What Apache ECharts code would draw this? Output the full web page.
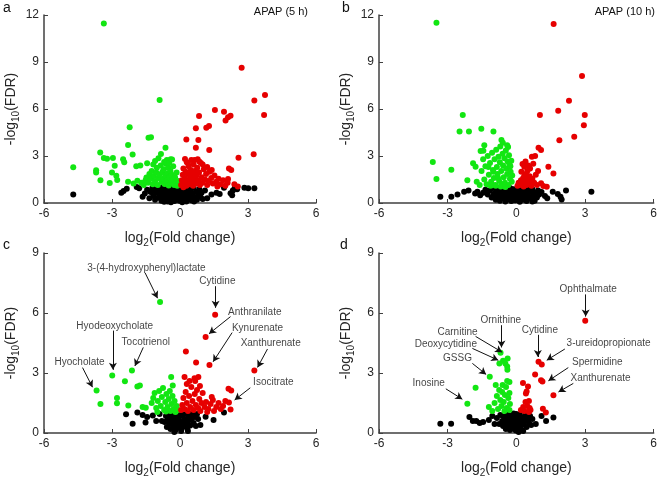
<!DOCTYPE html>
<html>
<head>
<meta charset="utf-8">
<script src="https://cdn.jsdelivr.net/npm/echarts@6/dist/echarts.min.js"></script>
<style>
html,body{margin:0;padding:0;background:#fff;}
#main{width:660px;height:479px;}
</style>
</head>
<body>
<div id="main"></div>
<script>
// panel a : APAP (5 h)
var aGreen=[[-3.36,11.45],[-0.90,6.57],[-2.22,4.83],[-1.39,4.17],[-1.28,4.19],[-2.29,3.70],[-0.64,3.53],[-3.52,3.23],[-3.36,2.87],[-3.22,2.83],[-2.96,2.87],[-2.51,2.79],[-2.09,3.09],[-4.71,2.28],[-2.88,2.38],[-2.46,2.60],[-3.70,2.09],[-3.70,1.94],[-3.00,1.94],[-2.81,1.74],[-3.51,1.45],[-3.10,1.28],[-2.77,1.47],[-2.29,1.36],[-1.93,2.34],[-1.75,2.40],[-1.45,2.53],[-1.10,2.68],[-0.84,3.13],[-0.58,2.74],[-0.41,2.79],
	[-1.52,1.45],[-1.48,1.62],[-1.40,1.30],[-1.35,1.85],[-1.28,1.55],[-1.25,2.05],[-1.20,1.20],[-1.15,1.72],[-1.10,1.40],[-1.05,1.95],[-1.02,2.25],[-0.98,1.15],[-0.95,1.60],[-0.90,1.82],[-0.85,2.40],[-0.82,1.35],[-0.78,1.98],[-0.75,1.55],[-0.72,2.15],[-0.68,1.22],[-0.65,1.75],[-0.62,2.50],[-0.58,1.42],[-0.55,1.90],[-0.52,2.25],[-0.50,1.12],[-0.46,1.62],[-0.42,2.05],[-0.40,1.30],[-0.36,1.80],[-0.32,1.48],[-0.30,2.35],[-0.26,1.15],[-0.22,1.65],[-0.18,1.30],[-0.15,1.95],[-0.12,1.10],[-0.08,1.40],[-1.70,1.30],[-1.60,1.15],[-1.88,1.42],[-2.05,1.25],[-0.70,2.62],[-0.95,2.85],[-1.18,2.45],[-0.48,2.55],[-0.35,2.78]];
var aRed=[[2.72,8.64],[3.75,6.89],[3.28,6.55],[1.54,5.94],[1.94,5.83],[2.12,5.47],[2.01,5.26],[2.23,5.57],[3.71,5.62],[0.84,5.55],[0.70,4.77],[1.16,4.81],[1.28,4.91],[0.28,4.06],[0.81,4.02],[0.70,3.53],[1.29,3.38],[3.25,3.11],[2.58,2.89],[0.22,2.81],[0.35,2.53],[0.64,2.74],[0.78,2.79],[2.16,2.21],[2.26,2.11],[2.12,1.53],
	[0.05,1.15],[0.08,1.45],[0.12,1.80],[0.15,2.20],[0.18,1.25],[0.22,1.60],[0.25,2.00],[0.28,1.10],[0.32,1.40],[0.35,1.85],[0.38,2.35],[0.42,1.20],[0.45,1.65],[0.48,2.10],[0.52,1.35],[0.55,1.90],[0.58,1.10],[0.60,2.45],[0.62,1.55],[0.66,2.05],[0.70,1.25],[0.72,1.75],[0.76,2.25],[0.80,1.45],[0.84,1.95],[0.88,1.15],[0.92,2.55],[0.95,1.65],[1.00,1.30],[1.05,2.15],[1.10,1.50],[1.15,1.85],[1.20,1.15],[1.25,1.40],[1.30,2.00],[1.38,1.60],[1.45,1.25],[1.52,1.75],[1.60,1.35],[1.70,1.55],[1.80,1.20],[1.90,1.45],[2.00,1.10],[2.10,1.30],[1.00,2.45],[1.20,2.30],[1.40,2.10],[0.30,2.60],[0.50,2.75],[0.85,2.65],[2.40,1.20],[2.55,1.05],[1.65,1.05],[0.15,1.00]];
var aBlack=[[-4.71,0.55],[-2.59,0.66],[-2.49,0.77],[-2.35,0.91],[-1.91,1.02],[-1.80,0.94],[-1.65,0.40],[-1.55,0.60],[-1.45,0.85],[1.39,0.55],[1.61,0.66],[1.75,0.57],[1.94,0.98],[2.23,0.62],[2.33,0.79],[2.41,0.94],[2.52,0.87],[2.84,0.98],[3.01,0.94],[3.28,0.94],[2.30,0.50],[1.20,0.30],[1.10,0.80],
	[-1.35,0.30],[-1.30,0.70],[-1.22,0.95],[-1.18,0.45],[-1.10,0.20],[-1.05,0.65],[-1.00,0.90],[-0.95,0.35],[-0.90,0.55],[-0.86,0.80],[-0.82,0.15],[-0.78,1.00],[-0.75,0.42],[-0.70,0.68],[-0.66,0.25],[-0.62,0.88],[-0.58,0.50],[-0.55,0.10],[-0.52,0.75],[-0.48,0.35],[-0.45,0.95],[-0.42,0.60],[-0.38,0.20],[-0.35,0.82],[-0.32,0.45],[-0.28,0.70],[-0.25,0.12],[-0.22,0.98],[-0.18,0.38],[-0.15,0.62],[-0.12,0.25],[-0.08,0.85],[-0.05,0.50],[-0.02,0.15],[0.02,0.72],[0.05,0.40],[0.08,0.95],[0.12,0.22],[0.15,0.60],[0.18,0.85],[0.22,0.32],[0.25,0.70],[0.28,0.10],[0.32,0.48],[0.35,0.92],[0.38,0.28],[0.42,0.65],[0.45,0.80],[0.50,0.18],[0.55,0.55],[0.60,0.98],[0.65,0.35],[0.70,0.72],[0.75,0.20],[0.80,0.55],[0.85,0.88],[0.90,0.40],[0.95,0.65],[1.00,0.25],[-0.60,0.30],[-0.40,0.05],[0.00,0.30],[0.10,0.05],[-0.20,0.55],[-0.85,0.30],[-1.15,0.80],[0.48,0.42],[-0.30,0.90],[0.62,0.10],[0.30,0.88],[-0.70,0.08],[-0.10,0.70],[0.20,0.45]];

// panel b : APAP (10 h)
var bGreen=[[-3.49,11.50],[-2.34,5.62],[-2.48,4.57],[-2.07,4.57],[-1.53,4.74],[-1.00,4.57],[-3.65,2.62],[-3.49,1.53],[-2.84,2.13],[-2.14,1.45],[-1.89,2.53],[-1.78,2.32],[-1.73,1.36],[-1.56,3.32],[-1.44,3.34],[-1.40,3.68],[-0.65,4.02],[-0.59,3.85],[-0.40,3.68],[-0.36,3.58],
	[-1.60,1.15],[-1.52,2.05],[-1.45,2.80],[-1.40,1.50],[-1.35,2.35],[-1.30,1.20],[-1.25,3.00],[-1.20,1.80],[-1.15,2.55],[-1.10,1.35],[-1.06,3.20],[-1.02,2.10],[-0.98,1.60],[-0.95,2.80],[-0.92,1.15],[-0.88,3.40],[-0.85,2.30],[-0.82,1.85],[-0.78,2.95],[-0.75,1.40],[-0.72,2.60],[-0.70,3.60],[-0.66,2.05],[-0.62,1.20],[-0.60,3.15],[-0.58,2.40],[-0.55,1.65],[-0.52,2.85],[-0.50,1.30],[-0.46,3.35],[-0.44,2.20],[-0.40,1.85],[-0.38,2.65],[-0.35,1.15],[-0.32,3.05],[-0.30,2.45],[-0.28,1.55],[-0.25,2.00],[-0.22,2.70],[-0.20,1.35],[-0.18,1.75],[-0.68,1.05],[-0.80,1.60],[-1.00,2.00],[-1.22,2.30],[-0.48,1.02],[-0.26,2.35],[-0.90,1.10],[-1.12,1.10]];
var bRed=[[1.63,11.43],[2.87,8.11],[2.30,6.53],[1.83,5.89],[1.03,5.62],[2.99,5.62],[2.95,4.96],[2.53,4.23],[1.88,4.00],[0.97,3.53],[1.08,3.38],[0.68,2.96],[0.82,3.00],[1.40,2.32],[1.62,1.89],[0.27,2.49],[0.35,2.32],[1.08,1.26],[1.18,1.09],[1.33,1.04],
	[0.05,1.10],[0.10,1.30],[0.15,1.15],[0.20,1.45],[0.25,1.20],[0.30,1.60],[0.32,1.05],[0.38,1.35],[0.42,1.85],[0.45,1.15],[0.48,2.05],[0.50,1.50],[0.55,1.25],[0.58,1.70],[0.60,2.20],[0.62,1.40],[0.66,1.10],[0.70,1.55],[0.74,2.50],[0.78,1.30],[0.85,1.80],[0.90,1.15],[0.40,2.65],[0.52,2.40],[0.22,2.00],[0.95,2.05],[0.35,1.70]];
var bBlack=[[-3.32,0.40],[-2.84,0.40],[-2.57,0.55],[-2.28,0.72],[-2.09,0.79],[-1.80,0.60],[-1.70,0.72],[-1.58,0.50],[-1.45,0.65],[-1.35,0.85],[1.59,0.72],[1.81,0.57],[1.93,0.40],[1.98,0.23],[2.17,0.79],[3.28,0.72],[1.25,0.45],[1.35,0.30],[1.10,0.70],
	[-1.25,0.55],[-1.15,0.80],[-1.08,0.35],[-1.00,0.95],[-0.95,0.60],[-0.90,0.20],[-0.85,0.75],[-0.80,0.40],[-0.76,0.98],[-0.72,0.15],[-0.68,0.62],[-0.64,0.85],[-0.60,0.30],[-0.56,0.50],[-0.52,0.92],[-0.48,0.10],[-0.45,0.70],[-0.42,0.38],[-0.38,0.82],[-0.35,0.22],[-0.32,0.58],[-0.28,0.95],[-0.25,0.45],[-0.22,0.12],[-0.18,0.68],[-0.15,0.30],[-0.12,0.88],[-0.08,0.50],[-0.05,0.18],[-0.02,0.75],[0.02,0.40],[0.05,0.95],[0.08,0.25],[0.12,0.62],[0.15,0.08],[0.18,0.85],[0.22,0.45],[0.25,0.70],[0.28,0.20],[0.32,0.92],[0.35,0.55],[0.38,0.32],[0.42,0.78],[0.45,0.12],[0.48,0.60],[0.52,0.95],[0.55,0.40],[0.60,0.70],[0.65,0.25],[0.70,0.88],[0.75,0.50],[0.80,0.15],[0.85,0.65],[0.90,0.35],[0.95,0.80],[1.00,0.55],[-0.70,0.45],[-0.40,0.55],[0.10,0.48],[0.40,0.20],[-0.20,0.88],[-0.60,0.80],[0.30,0.65],[-1.00,0.50],[0.70,0.10]];

// panel c
var cGreen=[[-0.88,6.55],[-2.12,3.12],[-2.99,2.88],[-2.43,2.59],[-1.88,2.32],[-1.77,2.38],[-3.68,2.13],[-2.78,1.75],[-2.78,1.49],[-3.51,1.45],[-2.28,1.37],[-1.65,1.30],[-1.51,1.26],[-0.39,2.80],[-0.32,2.37],
	[-1.25,1.50],[-1.18,1.75],[-1.12,2.00],[-1.05,1.25],[-0.98,1.60],[-0.92,2.10],[-0.85,1.35],[-0.80,1.80],[-0.75,2.25],[-0.70,1.15],[-0.65,1.55],[-0.60,1.95],[-0.55,1.30],[-0.50,1.70],[-0.45,2.10],[-0.42,1.10],[-0.38,1.45],[-0.33,1.85],[-0.28,1.20],[-0.24,1.60],[-0.20,1.05],[-0.15,1.35],[-0.10,1.15],[-1.00,1.05],[-0.62,1.08]];
var cRed=[[1.55,5.91],[1.13,4.80],[0.26,4.07],[0.71,3.53],[1.30,3.40],[3.28,3.12],[0.20,2.80],[0.64,2.74],[0.81,2.80],[0.42,2.60],[0.67,2.60],[2.14,2.21],[2.26,2.13],[2.16,1.53],[2.23,1.18],
	[0.05,1.15],[0.10,1.40],[0.15,1.75],[0.20,1.20],[0.25,2.05],[0.30,1.50],[0.35,1.10],[0.40,1.85],[0.45,1.30],[0.50,2.30],[0.55,1.60],[0.60,1.15],[0.65,1.95],[0.70,1.40],[0.75,2.15],[0.80,1.25],[0.85,1.70],[0.90,1.10],[0.95,1.50],[1.00,2.00],[1.08,1.30],[1.15,1.55],[1.25,1.20],[1.35,1.45],[1.45,1.65],[1.50,1.10],[1.60,1.30],[1.70,1.50],[1.80,1.20],[1.90,1.35],[2.00,1.60],[1.40,1.80],[0.88,2.35],[0.30,2.45],[1.20,1.05]];
var cBlack=[[-2.38,0.94],[-1.88,1.02],[-2.09,0.46],[-1.65,0.90],[-1.45,0.80],[-1.52,0.52],[-1.20,0.88],[-1.05,0.60],[-0.90,0.95],[1.13,0.81],[1.48,0.65],[1.94,1.02],[0.90,0.40],[0.80,0.70],
	[-0.68,0.55],[-0.62,0.85],[-0.58,0.30],[-0.55,0.65],[-0.50,0.95],[-0.46,0.45],[-0.42,0.20],[-0.38,0.75],[-0.35,0.52],[-0.30,0.90],[-0.27,0.35],[-0.24,0.65],[-0.20,0.15],[-0.17,0.80],[-0.14,0.48],[-0.10,0.98],[-0.07,0.28],[-0.04,0.62],[0.00,0.40],[0.03,0.85],[0.06,0.18],[0.10,0.55],[0.13,0.92],[0.16,0.32],[0.20,0.70],[0.24,0.45],[0.28,0.95],[0.32,0.25],[0.36,0.60],[0.40,0.82],[0.45,0.38],[0.50,0.68],[0.55,0.95],[0.60,0.50],[0.65,0.80],[0.70,0.35],[0.75,0.95],[-0.25,0.05],[0.05,0.10],[-0.45,0.72],[0.35,0.10],[0.18,0.50],[-0.12,0.30],[0.42,0.98],[-0.80,0.60]];

// panel d
var dGreen=[[-0.69,4.01],[-0.38,3.72],[-0.58,3.61],[-0.74,3.47],[-0.48,3.48],[-0.40,3.32],[-0.39,3.16],[-1.16,2.81],[-1.78,2.26],[-2.14,1.46],[-0.30,2.55],[-0.40,2.60],[-0.60,2.40],[-0.45,2.30],[-0.75,2.15],[-0.62,2.05],[-0.30,2.00],[-0.50,1.90],[-0.85,1.85],[-0.35,1.75],[-0.70,1.65],[-0.55,1.55],[-0.28,1.45],[-0.95,1.50],[-0.65,1.35],[-0.42,1.25],[-0.80,1.20],[-1.05,1.10],[-0.52,1.10],[-0.30,1.15],[-0.90,2.40],[-1.20,1.30]];
var dRed=[[3.01,5.61],[0.97,3.56],[1.11,3.43],[0.82,2.93],[1.08,2.64],[1.14,2.58],[0.29,2.50],[0.51,2.32],[0.45,2.08],[0.42,1.97],[1.62,1.89],[0.55,1.60],[0.40,1.55],[0.30,1.30],[0.48,1.35],[0.58,1.25],[0.20,1.15],[1.16,1.21],[1.29,1.02],[0.55,1.05],[0.35,1.10],[0.62,1.15]];
var dBlack=[[-3.32,0.46],[-2.85,0.46],[-2.05,0.80],[-1.75,0.60],[-1.90,0.60],[-1.60,0.50],[-1.45,0.55],[-1.20,0.65],[-1.05,0.85],[-0.95,0.45],[1.62,0.78],[1.10,0.85],[0.85,0.45],[0.70,0.70],[1.30,0.60],
	[-0.62,0.60],[-0.58,0.35],[-0.55,0.82],[-0.50,0.50],[-0.46,0.20],[-0.42,0.70],[-0.38,0.95],[-0.35,0.40],[-0.31,0.62],[-0.28,0.15],[-0.25,0.85],[-0.22,0.48],[-0.18,0.28],[-0.15,0.72],[-0.12,0.98],[-0.08,0.38],[-0.05,0.58],[-0.02,0.12],[0.02,0.80],[0.05,0.45],[0.08,0.25],[0.12,0.65],[0.15,0.92],[0.18,0.35],[0.22,0.55],[0.25,0.15],[0.28,0.78],[0.32,0.42],[0.36,0.62],[0.40,0.95],[0.45,0.30],[0.50,0.70],[0.55,0.50],[0.60,0.85],[0.65,0.40],[-0.75,0.45],[-0.85,0.75],[-0.70,0.90],[0.10,0.05],[-0.10,0.20],[0.30,0.10],[-0.40,0.30],[0.45,0.85],[-0.20,0.62],[0.00,0.95]];

// annotations: name, text x/y, arrow from x/y, arrow to x/y (data units)
var cNotes=[
	['3-(4-hydroxyphenyl)lactate',-1.48,8.25,-1.54,8.01,-0.99,6.74],
	['Cytidine',1.65,7.58,1.57,7.34,1.57,6.26],
	['Anthranilate',3.30,6.03,2.23,5.82,1.28,4.96],
	['Kynurenate',3.42,5.26,2.30,5.02,1.46,3.56],
	['Xanthurenate',4.00,4.48,3.86,4.20,3.42,3.28],
	['Isocitrate',4.12,2.54,3.10,2.26,2.41,1.65],
	['Hyodeoxycholate',-2.88,5.34,-2.96,5.12,-2.96,3.16],
	['Tocotrienol',-1.51,4.55,-1.62,4.28,-1.99,3.35],
	['Hyocholate',-4.43,3.53,-4.30,3.27,-3.86,2.29]
];
var dNotes=[
	['Ophthalmate',3.14,7.19,3.03,6.93,3.03,5.82],
	['Ornithine',-0.68,5.63,-0.65,5.39,-0.65,4.28],
	['Carnitine',-2.57,5.04,-1.78,4.83,-0.62,4.04],
	['Deoxycytidine',-3.08,4.44,-1.92,4.23,-0.79,3.64],
	['Cytidine',1.03,5.15,0.94,4.91,0.94,3.80],
	['3-ureidopropionate',4.03,4.48,2.12,4.20,1.33,3.64],
	['Spermidine',3.54,3.53,2.27,3.27,1.40,2.61],
	['Xanthurenate',3.68,2.73,2.49,2.48,1.84,2.05],
	['GSSG',-2.57,3.75,-1.92,3.48,-1.32,2.93],
	['Inosine',-3.83,2.48,-3.08,2.21,-2.36,1.69]
];

var FONT='"Liberation Sans", Arial, sans-serif';
var axisCol='#404040';
var txtCol='#262626';

var grids=[
	{left:40,top:15,width:276,height:188},
	{left:379,top:15,width:277,height:188},
	{left:40,top:253,width:276,height:188},
	{left:379,top:253,width:277,height:188}
];
var yMax=[12,12,9,9];

function xAx(i){
	return {
		gridIndex:i,type:'value',min:-6,max:6,interval:3,
		name:'log{s|2}(Fold change)',nameLocation:'middle',nameGap:25,
		nameTextStyle:{fontFamily:FONT,fontSize:14,color:txtCol,lineHeight:20,
			rich:{s:{fontFamily:FONT,fontSize:10,color:txtCol,padding:[10,0,0,0],verticalAlign:'middle'}}},
		axisLine:{show:true,onZero:false,lineStyle:{color:axisCol,width:1.5}},
		axisTick:{show:true,inside:true,length:4,lineStyle:{color:axisCol}},
		axisLabel:{fontFamily:FONT,fontSize:12,color:txtCol,margin:5},
		splitLine:{show:false}
	};
}
function yAx(i){
	return {
		gridIndex:i,type:'value',min:0,max:yMax[i],interval:3,
		name:'-log{s|10}(FDR)',nameLocation:'middle',nameGap:23,
		nameTextStyle:{fontFamily:FONT,fontSize:14,color:txtCol,lineHeight:20,
			rich:{s:{fontFamily:FONT,fontSize:10,color:txtCol,padding:[10,0,0,0],verticalAlign:'middle'}}},
		axisLine:{show:true,onZero:false,lineStyle:{color:axisCol,width:1.5}},
		axisTick:{show:true,inside:true,length:4,lineStyle:{color:axisCol}},
		axisLabel:{fontFamily:FONT,fontSize:12,color:txtCol,margin:5},
		splitLine:{show:false}
	};
}
function dots(i,data,color){
	return {type:'scatter',xAxisIndex:i,yAxisIndex:i,data:data,symbolSize:6,
		itemStyle:{color:color,opacity:1},silent:true,animation:false};
}
function notes(i,list){
	var lines=[],labels=[];
	for(var k=0;k<list.length;k++){
		var n=list[k];
		labels.push({name:n[0],value:[n[1],n[2]]});
		lines.push([{coord:[n[3],n[4]]},{coord:[n[5],n[6]]}]);
	}
	return {type:'scatter',xAxisIndex:i,yAxisIndex:i,data:labels,symbolSize:0,silent:true,animation:false,
		label:{show:true,position:'inside',formatter:'{b}',fontFamily:FONT,fontSize:10,color:'#111'},
		markLine:{silent:true,animation:false,symbol:['none','arrow'],symbolSize:[6,7],
			lineStyle:{color:'#111',width:1,type:'solid'},label:{show:false},data:lines}};
}

var chart=echarts.init(document.getElementById('main'),null,{renderer:'canvas'});
var green='#12e612',red='#e60000',black='#000000';
chart.setOption({
	backgroundColor:'#fff',
	animation:false,
	title:[
		{text:'a',left:3,top:1,padding:0,textStyle:{fontFamily:FONT,fontSize:14,fontWeight:'normal',color:'#111'}},
		{text:'b',left:342,top:1,padding:0,textStyle:{fontFamily:FONT,fontSize:14,fontWeight:'normal',color:'#111'}},
		{text:'c',left:3,top:238,padding:0,textStyle:{fontFamily:FONT,fontSize:14,fontWeight:'normal',color:'#111'}},
		{text:'d',left:340,top:238,padding:0,textStyle:{fontFamily:FONT,fontSize:14,fontWeight:'normal',color:'#111'}},
		{text:'APAP (5 h)',right:352,top:6,padding:0,textStyle:{fontFamily:FONT,fontSize:11,fontWeight:'normal',color:'#111'}},
		{text:'APAP (10 h)',right:5,top:6,padding:0,textStyle:{fontFamily:FONT,fontSize:11,fontWeight:'normal',color:'#111'}}
	],
	grid:grids,
	xAxis:[xAx(0),xAx(1),xAx(2),xAx(3)],
	yAxis:[yAx(0),yAx(1),yAx(2),yAx(3)],
	series:[
		dots(0,aBlack,black),dots(0,aGreen,green),dots(0,aRed,red),
		dots(1,bBlack,black),dots(1,bGreen,green),dots(1,bRed,red),
		dots(2,cBlack,black),dots(2,cGreen,green),dots(2,cRed,red),
		dots(3,dBlack,black),dots(3,dGreen,green),dots(3,dRed,red),
		notes(2,cNotes),notes(3,dNotes)
	]
});
</script>
</body>
</html>
